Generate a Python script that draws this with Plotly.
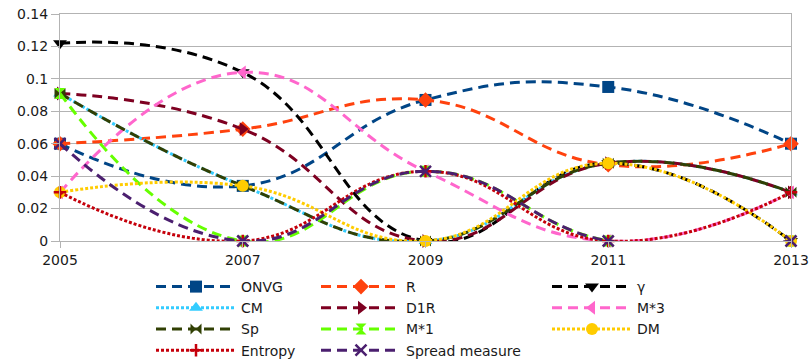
import plotly.graph_objects as go

years = [2005, 2007, 2009, 2011, 2013]
onvg = [0.060, 0.034, 0.087, 0.095, 0.060]
r_vals = [0.060, 0.069, 0.087, 0.047, 0.060]
gamma = [0.122, 0.104, 0.000, 0.048, 0.000]
cm = [0.091, 0.034, 0.000, 0.048, 0.030]
d1r = [0.091, 0.069, 0.000, 0.048, 0.030]
m3 = [0.030, 0.104, 0.043, 0.000, 0.030]
sp = [0.091, 0.034, 0.000, 0.048, 0.030]
m1 = [0.091, 0.000, 0.043, 0.000, 0.000]
dm = [0.030, 0.034, 0.000, 0.048, 0.000]
entropy = [0.030, 0.000, 0.043, 0.000, 0.030]
spread = [0.060, 0.000, 0.043, 0.000, 0.000]

x_ticks = [2005, 2007, 2009, 2011, 2013]
y_ticks = [0, 0.02, 0.04, 0.06, 0.08, 0.1, 0.12, 0.14]

DASH = "10px,6px"
DOT = "3px,2px"

series = [
    ("ONVG", onvg, "#004586", DASH, "square", "legend", 12),
    ("R", r_vals, "#ff420e", DASH, "diamond", "legend2", 12),
    ("γ", gamma, "#000000", DASH, "triangle-down", "legend3", 12),
    ("CM", cm, "#33ccff", DOT, "triangle-up", "legend", 12),
    ("D1R", d1r, "#7e0021", DASH, "triangle-right", "legend2", 12),
    ("M*3", m3, "#ff66cc", DASH, "triangle-left", "legend3", 12),
    ("Sp", sp, "#314004", DASH, "bowtie", "legend", 11),
    ("M*1", m1, "#66ff00", DASH, "hourglass", "legend2", 11),
    ("DM", dm, "#ffcc00", DOT, "circle", "legend3", 12),
    ("Entropy", entropy, "#c5000b", DOT, "cross-thin", "legend", 9),
    ("Spread measure", spread, "#4b1f6f", DASH, "x-thin", "legend2", 11),
]

fig = go.Figure()
for name, vals, color, dash, sym, leg, msize in series:
    thin = sym.endswith("-thin")
    fig.add_trace(go.Scatter(
        x=years, y=vals, name=name, mode="lines+markers",
        line=dict(color=color, width=3, dash=dash, shape="spline", smoothing=1.3),
        marker=dict(symbol=sym, size=msize, color=color,
                    line=dict(width=2.5 if thin else 0, color=color)),
        legend=leg, cliponaxis=False,
    ))

font = dict(family="DejaVu Sans", size=14, color="#1a1a1a")
W, H = 812, 362
leg_top = 1 - 271 / H
leg_common = dict(font=font, orientation="v", yanchor="top", xanchor="left",
                  xref="container", yref="container", y=leg_top,
                  bgcolor="rgba(0,0,0,0)", tracegroupgap=0, itemwidth=80)

fig.update_layout(
    width=W, height=H,
    margin=dict(l=60, r=21, t=14, b=121, autoexpand=False),
    paper_bgcolor="white", plot_bgcolor="white",
    font=font,
    showlegend=True,
    legend=dict(x=151 / W, **leg_common),
    legend2=dict(x=316 / W, **leg_common),
    legend3=dict(x=547 / W, **leg_common),
    xaxis=dict(range=[2005, 2013], tickvals=x_ticks, ticktext=[str(v) for v in x_ticks],
               showgrid=False, showline=True, mirror=True, linecolor="#b3b3b3",
               linewidth=1, ticks="outside", ticklen=6, tickcolor="#b3b3b3",
               zeroline=False, tickfont=font, automargin=False),
    yaxis=dict(range=[0, 0.14], tickvals=y_ticks, showgrid=True, gridcolor="#b3b3b3",
               gridwidth=1, showline=True, mirror=True, linecolor="#b3b3b3",
               linewidth=1, ticks="outside", ticklen=8, tickcolor="#b3b3b3",
               zeroline=False, tickfont=font, automargin=False),
)

fig.write_html("out.html")
